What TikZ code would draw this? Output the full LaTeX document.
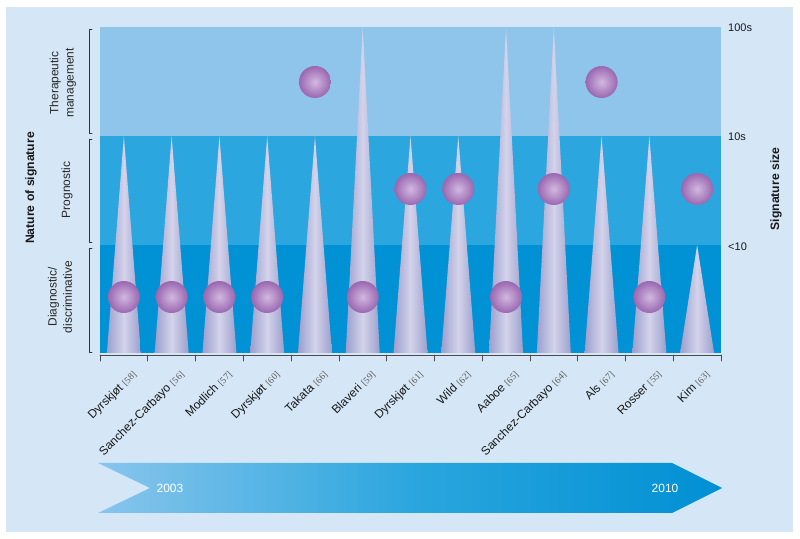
\documentclass[tikz,border=0pt]{standalone}
\usepackage{fontspec}
\setmainfont{Liberation Sans}
\newfontfamily\reffont{Liberation Serif}
\usepackage{tikz}
\usetikzlibrary{calc,positioning}
\definecolor{sigpage}{HTML}{D5E7F6}
\definecolor{sigtop}{HTML}{8FC5EB}
\definecolor{sigmid}{HTML}{2CA6DE}
\definecolor{siglow}{HTML}{0092D5}
\definecolor{conerim}{HTML}{9C9FCD}
\definecolor{conemid}{HTML}{D4D3EB}
\definecolor{ballin}{HTML}{D2B8E0}
\definecolor{ballout}{HTML}{9A67B0}
\definecolor{arrowlo}{HTML}{88C5EC}
\definecolor{arrowmid}{HTML}{2BA6DE}
\definecolor{arrowhi}{HTML}{0090D4}
\definecolor{axisgrey}{HTML}{4A4A4A}
\definecolor{refgrey}{HTML}{5A5A5A}
\tikzset{
  every picture/.append style={line cap=round,line join=round},
  sig cone/.style={left color=conerim,right color=conerim,middle color=conemid},
  sig ball/.style={inner color=ballin,outer color=ballout},
  sig arrow/.style={left color=arrowlo,right color=arrowhi,middle color=arrowmid},
  sig axis/.style={axisgrey,line width=0.6pt},
  sig bracket/.style={black!80,line width=0.5pt},
  sig study/.style={font=\fontsize{10.2}{11}\selectfont,text=black!90,rotate=45,anchor=north east,inner sep=0pt},
  sig cat/.style={font=\fontsize{10.2}{13}\selectfont,text=black!85,rotate=90,align=center,inner sep=0pt},
  sig title/.style={font=\fontsize{10.4}{12}\selectfont\bfseries,text=black!90,rotate=90,inner sep=0pt},
  sig size/.style={font=\fontsize{9.4}{11}\selectfont,text=black!90,anchor=west,inner sep=0pt},
  sig year/.style={font=\fontsize{10.2}{11}\selectfont,text=white,inner sep=0pt}
}
\newcommand{\sigref}[1]{{\reffont\fontsize{8}{9}\selectfont\color{refgrey}[#1]}}

\begin{document}
\begin{tikzpicture}[x=0.03cm, y=-0.03cm]
  \useasboundingbox (0,0) rectangle (800,539);
  \fill[white] (0,0) rectangle (800,539);
  \fill[sigpage] (6,7) rectangle (793,532);
  \fill[sigtop] (100,27) rectangle (721,136);
  \fill[sigmid] (100,136) rectangle (721,245);
  \fill[siglow] (100,245) rectangle (721,353);
  \foreach \who/\cit/\tip/\by [count=\i] in {Dyrskjøt/58/136/297, Sanchez-Carbayo/56/136/297,
      Modlich/57/136/297, Dyrskjøt/60/136/297, Takata/66/136/82, Blaveri/59/27/297,
      Dyrskjøt/61/136/189, Wild/62/136/189, Aaboe/65/27/297, Sanchez-Carbayo/64/27/189,
      Als/67/136/82, Rosser/55/136/297, Kim/63/245/189} {
    \pgfmathsetmacro\cx{100+(\i-0.5)*47.77}
    \shade[sig cone] (\cx-17,353) -- (\cx,\tip) -- (\cx+17,353) -- cycle;
    \shade[sig ball] (\cx,\by) circle (16);
    \node[sig study] (study\i) at (\cx+7,369) {\who\ \sigref{\cit}};
  }
  \draw[sig axis] (100,355) -- (721,355);
  \foreach \k in {0,...,13}
    \draw[sig axis] ({100+\k*47.77},355) -- ++(0,6);
  \foreach \ya/\yb in {29/133, 139/242, 248/352}
    \draw[sig bracket] (92,\ya) -- (89,\ya) -- (89,\yb) -- (92,\yb);
  \node[sig cat] (cattop) at (63,83) {Therapeutic\\management};
  \node[sig cat] (catmid) at (67,190) {Prognostic};
  \node[sig cat] (catlow) at (60,297) {Diagnostic/\\discriminative};
  \node[sig title] (nature) at (31,188) {Nature of signature};
  \node[sig size] (size100) at (728,28) {100s};
  \node[sig size] (size10) at (728,137) {10s};
  \node[sig size] (sizelow) at (728,247) {<10};
  \node[sig title] (sigsize) at (776,189) {Signature size};
  \shade[sig arrow] (98,463) -- (672,463) -- (722,488) -- (672,513) -- (98,513) -- (150,488) -- cycle;
  \node[sig year] (y2003) at (170,488) {2003};
  \node[sig year] (y2010) at (665,488) {2010};
\end{tikzpicture}
\end{document}
